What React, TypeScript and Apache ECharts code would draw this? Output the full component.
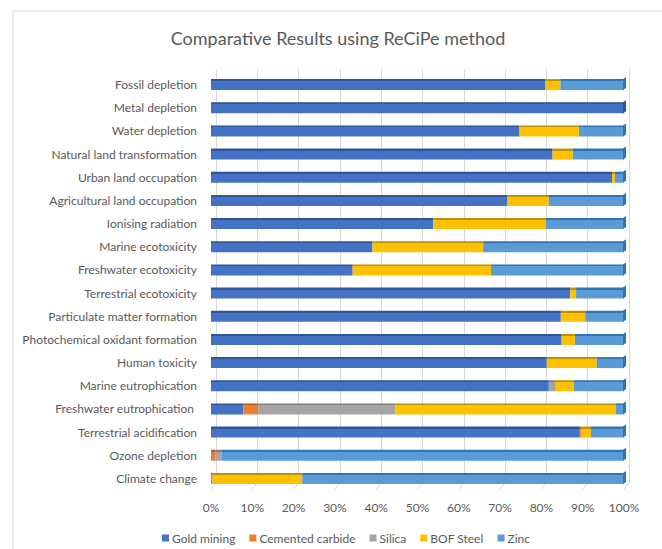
import React, { useEffect, useRef } from "react";
import * as echarts from "echarts";

const categories = [
  "Fossil depletion",
  "Metal depletion",
  "Water depletion",
  "Natural land transformation",
  "Urban land occupation",
  "Agricultural land occupation",
  "Ionising radiation",
  "Marine ecotoxicity",
  "Freshwater ecotoxicity",
  "Terrestrial ecotoxicity",
  "Particulate matter formation",
  "Photochemical oxidant formation",
  "Human toxicity",
  "Marine eutrophication",
  "Freshwater eutrophication ",
  "Terrestrial acidification",
  "Ozone depletion",
  "Climate change",
];

const goldMining = [81.0, 100, 74.7, 82.7, 97.1, 71.8, 53.8, 39.1, 34.3, 87.0, 84.7, 84.9, 81.3, 81.8, 7.8, 89.3, 0, 0];
const cementedCarbide = [0, 0, 0, 0, 0, 0, 0, 0, 0, 0, 0, 0, 0, 0, 3.6, 0.3, 1.0, 0.4];
const silica = [0, 0, 0, 0, 0, 0, 0, 0, 0, 0, 0, 0, 0, 1.7, 33.3, 0, 1.5, 0];
const bofSteel = [3.6, 0, 14.4, 4.9, 0.7, 10.0, 27.2, 26.8, 33.5, 1.4, 5.9, 3.2, 12.1, 4.4, 53.3, 2.4, 0, 21.7];
const zinc = [15.4, 0, 10.9, 12.4, 2.2, 18.2, 19.0, 34.1, 32.2, 11.6, 9.4, 11.9, 6.6, 12.1, 2.0, 8.0, 97.5, 77.9];

const seriesNames = ["Gold mining", "Cemented carbide", "Silica", "BOF Steel", "Zinc"];
const seriesColors = ["#4472C4", "#ED7D31", "#A5A5A5", "#FFC000", "#5B9BD5"];
const seriesDark = ["#2F5597", "#C55A11", "#7F7F7F", "#BF9000", "#2E75B6"];
const tickValues = [0, 10, 20, 30, 40, 50, 60, 70, 80, 90, 100];

const FONT = "Lato, 'Noto Sans', sans-serif";
const TXT = "#595959";

export default function App() {
  const ref = useRef<HTMLDivElement>(null);
  useEffect(() => {
    if (!ref.current) return;
    const chart = echarts.init(ref.current, null, { renderer: "svg" });
    const allData = [goldMining, cementedCarbide, silica, bofSteel, zinc];
    const barSeries = allData.map((d, i) => ({
      name: seriesNames[i],
      type: "bar",
      stack: "total",
      xAxisIndex: 0,
      yAxisIndex: 0,
      barWidth: 11,
      data: d,
      itemStyle: {
        color: new echarts.graphic.LinearGradient(0, 0, 0, 1, [
          { offset: 0, color: seriesDark[i] },
          { offset: 0.18, color: seriesDark[i] },
          { offset: 0.18, color: seriesColors[i] },
          { offset: 1, color: seriesColors[i] },
        ]),
      },
    }));
    // colour of the last non-zero segment of each row, for the 3D end cap
    const capColor = categories.map((_, r) => {
      let c = seriesDark[0];
      allData.forEach((d, i) => {
        if (d[r] > 0) c = seriesDark[i];
      });
      return c;
    });
    chart.setOption({
      animation: false,
      backgroundColor: "#ffffff",
      color: seriesColors,
      title: {
        text: "Comparative Results using ReCiPe method",
        left: 333,
        textAlign: "center",
        top: 24,
        textStyle: { fontFamily: FONT, fontSize: 18, fontWeight: "normal", color: TXT },
      },
      legend: {
        data: seriesNames.map((n, i) => ({ name: n, itemStyle: { color: seriesColors[i] } })),
        left: 157,
        top: 527,
        itemWidth: 7,
        itemHeight: 7,
        itemGap: 14,
        icon: "rect",
        textStyle: { fontFamily: FONT, fontSize: 12, color: TXT, padding: [0, 0, 0, -2] },
      },
      graphic: [
        {
          type: "rect",
          shape: { x: 13, y: 11, width: 700, height: 600 },
          style: { fill: "none", stroke: "#d9d9d9", lineWidth: 1 },
          silent: true,
        },
      ],
      grid: [
        { left: 211, right: 38, top: 73, bottom: 59 },
        { left: 216, right: 33, top: 69, bottom: 66 },
      ],
      xAxis: [
        {
          type: "value",
          gridIndex: 0,
          min: 0,
          max: 100,
          interval: 10,
          axisLine: { show: false },
          axisTick: { show: false },
          splitLine: { show: false },
          axisLabel: {
            formatter: "{value}%",
            fontFamily: FONT,
            fontSize: 12,
            color: TXT,
            margin: 11,
          },
        },
        {
          type: "value",
          gridIndex: 1,
          min: 0,
          max: 100,
          interval: 10,
          axisLine: { show: false },
          axisTick: { show: false },
          axisLabel: { show: false },
          splitLine: { show: true, lineStyle: { color: "#d9d9d9", width: 1 } },
        },
      ],
      yAxis: [
        {
          type: "category",
          gridIndex: 0,
          data: categories,
          inverse: true,
          axisLine: { show: false },
          axisTick: { show: false },
          axisLabel: { fontFamily: FONT, fontSize: 12, color: TXT, margin: 14 },
        },
        {
          type: "category",
          gridIndex: 1,
          data: categories,
          inverse: true,
          show: false,
        },
      ],
      series: [
        ...barSeries,
        {
          type: "custom",
          name: "cap",
          xAxisIndex: 0,
          yAxisIndex: 0,
          silent: true,
          data: categories.map((_, r) => [100, r]),
          renderItem: (params: any, api: any) => {
            const p = api.coord([api.value(0), api.value(1)]);
            const r = params.dataIndex;
            return {
              type: "polygon",
              shape: {
                points: [
                  [p[0] - 1, p[1] - 5.5],
                  [p[0] + 2, p[1] - 7.5],
                  [p[0] + 2, p[1] + 3.5],
                  [p[0] - 1, p[1] + 5.5],
                ],
              },
              style: { fill: capColor[r] },
            };
          },
          z: 3,
        },
        {
          type: "custom",
          name: "floor",
          xAxisIndex: 0,
          yAxisIndex: 0,
          silent: true,
          data: tickValues.map((v) => [v, categories.length - 1]),
          renderItem: (params: any, api: any) => {
            const p = api.coord([api.value(0), api.value(1)]);
            const cs = params.coordSys;
            const yb = cs.y + cs.height;
            return {
              type: "line",
              shape: { x1: p[0] + 5, y1: yb - 7, x2: p[0], y2: yb - 1 },
              style: { stroke: "#d9d9d9", lineWidth: 1 },
            };
          },
          z: 0,
        },
      ],
    });
    return () => chart.dispose();
  }, []);
  return <div ref={ref} style={{ width: 662, height: 549, position: "absolute", left: 0, top: 0 }} />;
}
